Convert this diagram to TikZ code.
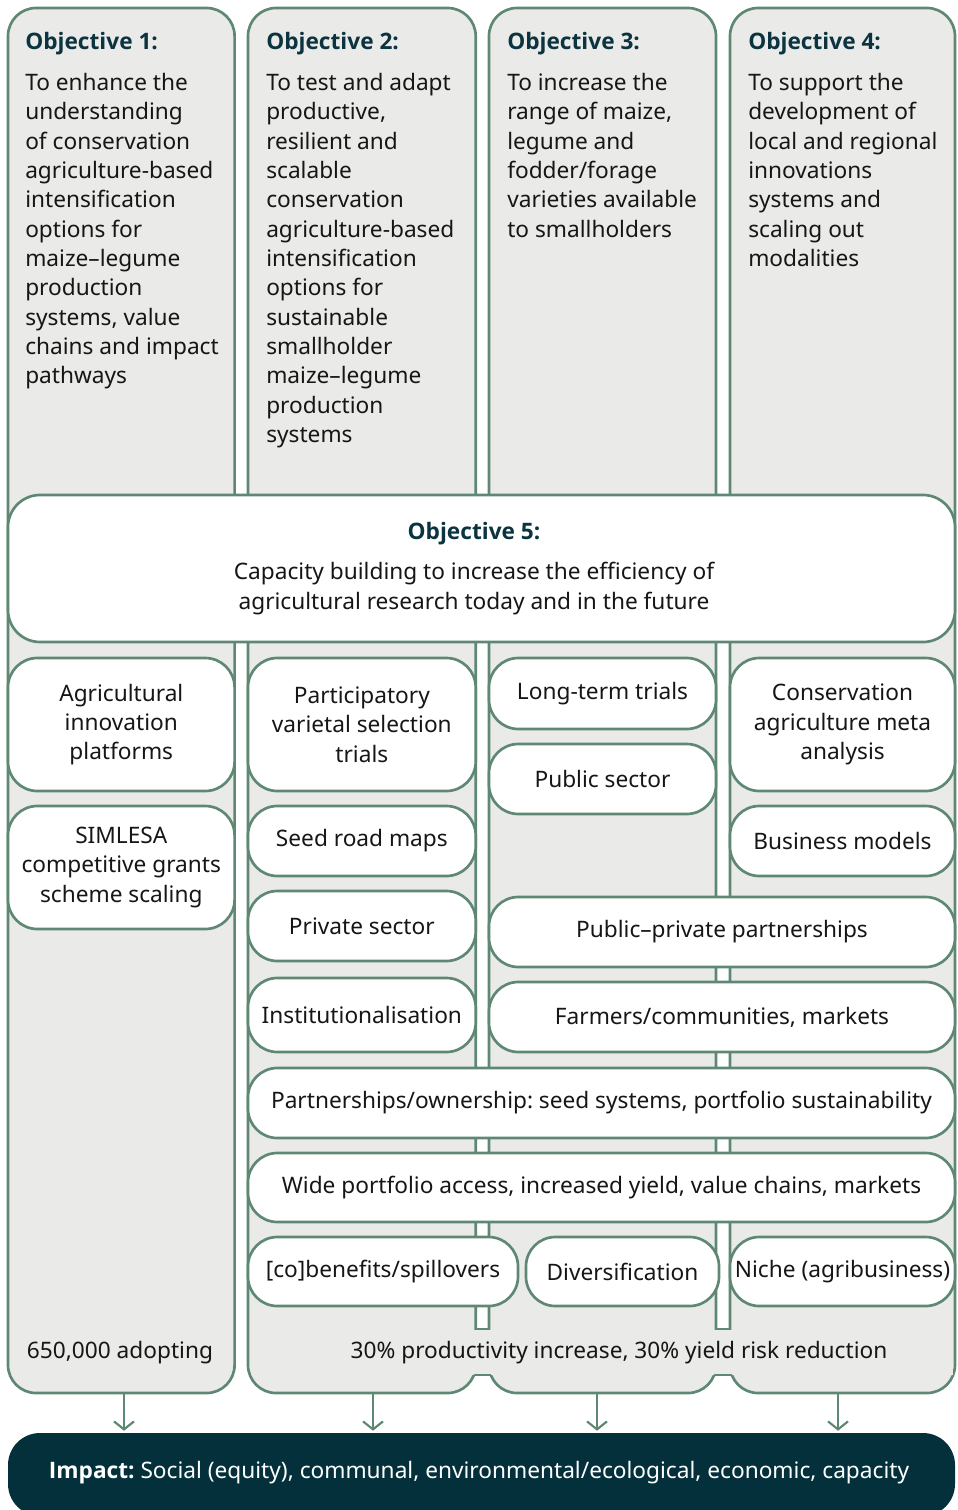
\documentclass[tikz,border=0pt]{standalone}
\usepackage{fontspec}
\setmainfont{Noto Sans}
\newfontfamily\headfam{Open Sans}
\frenchspacing
\usetikzlibrary{fit,arrows.meta}
\definecolor{colfill}{HTML}{EAEAE8}
\definecolor{edge}{HTML}{5E8874}
\definecolor{ink}{HTML}{161616}
\definecolor{titleink}{HTML}{0B3340}
\definecolor{impactfill}{HTML}{03303B}
% rounded box given by its corners (x1,y1) (x2,y2), with centred text
\newcommand\mkpill[6]{%
  \node[pill, minimum width={(#4-#2)*0.75pt}, minimum height={(#5-#3)*0.75pt}]
    (#1) at ({(#2+#4)/2},{(#3+#5)/2+1}) {#6};}
\begin{document}
\begin{tikzpicture}[x=0.75pt,y=-0.75pt,
  every node/.style={font=\fontsize{17}{22}\selectfont, text=ink},
  column/.style={draw=edge, fill=colfill, line width=2pt, rounded corners=21pt, inner sep=0pt},
  pill/.style={draw=edge, fill=white, line width=2pt, rounded corners=22pt, inner sep=0pt, align=center},
  objtitle/.style={font=\headfam\bfseries\fontsize{17}{22}\selectfont, text=titleink, anchor=base west, inner sep=0pt},
  objtext/.style={align=left, anchor=north west, inner sep=0pt},
  edgeline/.style={draw=edge, line width=2pt},
  flow/.style={draw=edge, line width=1.6pt, -{Straight Barb[length=6pt,width=15pt,line width=1.6pt]}}]
\useasboundingbox (0,0) rectangle (957,1510);

% four objective columns
\node[column, fit={(8,8) (234.6,1393)}] (col1) {};
\node[column, fit={(248,8) (475.7,1393)}] (col2) {};
\node[column, fit={(489,8) (716,1393)}] (col3) {};
\node[column, fit={(730,8) (955,1393)}] (col4) {};

% joined foot of columns 2--4
\fill[colfill] (251,1330) rectangle (953,1375);
\draw[edgeline] (475.7,1329) -- (489,1329);
\draw[edgeline] (716,1329) -- (730,1329);
\draw[edgeline] (473.9,1375) -- (490.8,1375);
\draw[edgeline] (714.2,1375) -- (731.8,1375);

% objective headings and descriptions
\node[objtitle] (t1) at (25,49) {Objective 1:};
\node[objtitle] (t2) at (266,49) {Objective 2:};
\node[objtitle] (t3) at (507,49) {Objective 3:};
\node[objtitle] (t4) at (748,49) {Objective 4:};
\node[objtext] (d1) at (25,73) {To enhance the\\understanding\\of conservation\\agriculture-based\\intensification\\options for\\maize–legume\\production\\systems, value\\chains and impact\\pathways};
\node[objtext] (d2) at (266,73) {To test and adapt\\productive,\\resilient and\\scalable\\conservation\\agriculture-based\\intensification\\options for\\sustainable\\smallholder\\maize–legume\\production\\systems};
\node[objtext] (d3) at (507,73) {To increase the\\range of maize,\\legume and\\fodder/forage\\varieties available\\to smallholders};
\node[objtext] (d4) at (748,73) {To support the\\development of\\local and regional\\innovations\\systems and\\scaling out\\modalities};

% objective 5
\node[pill, rounded corners=24pt, fit={(8,495) (955,642)}] (obj5) {};
\node[objtitle, anchor=base] (t5) at (474,539) {Objective 5:};
\node[anchor=base, align=center, inner sep=0pt] (d5) at (474,609) {Capacity building to increase the efficiency of\\agricultural research today and in the future};

% activities and outputs
\mkpill{aip}{8}{657}{234.6}{790}{Agricultural\\innovation\\platforms}
\mkpill{sim}{8}{805}{234.6}{928}{SIMLESA\\competitive grants\\scheme scaling}
\mkpill{pvs}{248}{657}{475.7}{790}{Participatory\\varietal selection\\trials}
\mkpill{srm}{248}{805}{475.7}{875}{Seed road maps}
\mkpill{prv}{248}{890}{475.7}{960}{Private sector}
\mkpill{ins}{248}{977}{475.7}{1051}{Institutionalisation}
\mkpill{ltt}{489}{657}{716}{728}{Long-term trials}
\mkpill{pub}{489}{743}{716}{813}{Public sector}
\mkpill{cam}{730}{657}{955}{790}{Conservation\\agriculture meta\\analysis}
\mkpill{bm}{730}{805}{955}{875}{Business models}
\mkpill{ppp}{489}{896}{955}{966}{Public–private partnerships}
\mkpill{fcm}{489}{981}{955}{1051}{Farmers/communities, markets}
\mkpill{pos}{248}{1067}{955}{1137}{Partnerships/ownership: seed systems, portfolio sustainability}
\mkpill{wpa}{248}{1152}{955}{1221}{Wide portfolio access, increased yield, value chains, markets}
\mkpill{cob}{248}{1236}{518}{1305}{[co]benefits/spillovers}
\mkpill{div}{526}{1236}{719}{1305}{Diversification}
\mkpill{nic}{730}{1236}{955}{1305}{Niche (agribusiness)}

% outcomes
\node[inner sep=0pt] (o1) at (120,1353) {650,000 adopting};
\node[inner sep=0pt] (o2) at (619,1353) {30\% productivity increase, 30\% yield risk reduction};

% impact
\node[fill=impactfill, rounded corners=24pt, inner sep=0pt, fit={(8,1433) (955,1516)}] (impact) {};
\node[text=white, inner sep=0pt] (it) at (479,1473) {{\headfam\bfseries Impact:} Social (equity), communal, environmental/ecological, economic, capacity};

\coordinate (a1) at (124,0);
\coordinate (a2) at (373,0);
\coordinate (a3) at (597,0);
\coordinate (a4) at (838,0);
\draw[flow] (col1.south -| a1) -- ([yshift=1.5pt]impact.north -| a1);
\draw[flow] (col2.south -| a2) -- ([yshift=1.5pt]impact.north -| a2);
\draw[flow] (col3.south -| a3) -- ([yshift=1.5pt]impact.north -| a3);
\draw[flow] (col4.south -| a4) -- ([yshift=1.5pt]impact.north -| a4);
\end{tikzpicture}
\end{document}
